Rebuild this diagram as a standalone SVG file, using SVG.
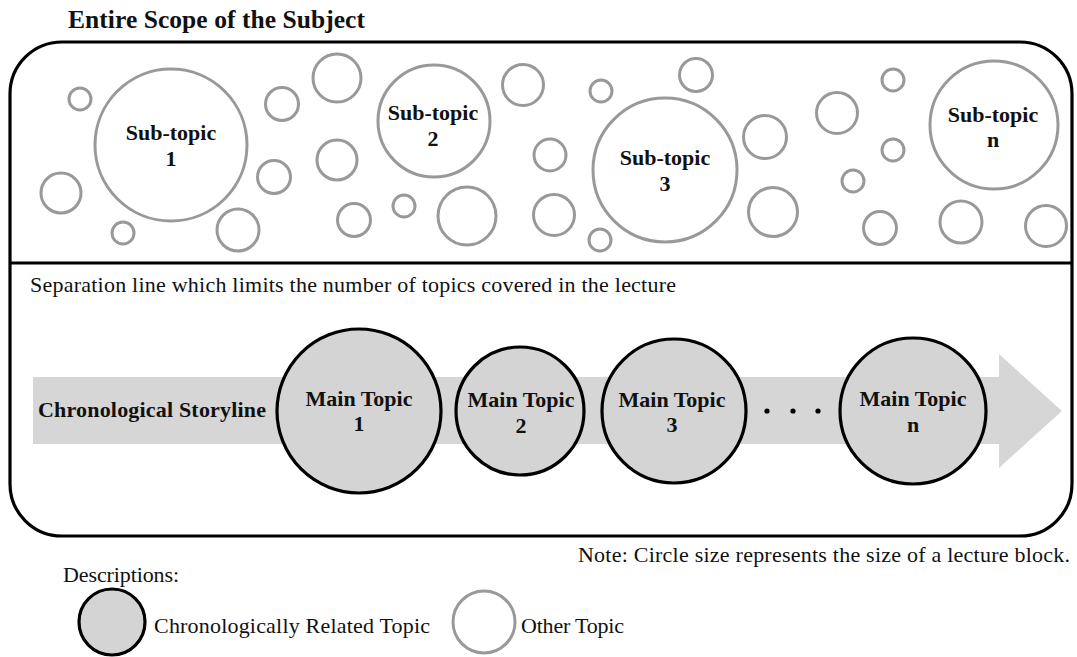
<svg xmlns="http://www.w3.org/2000/svg" width="1077" height="657" viewBox="0 0 1077 657" font-family="'Liberation Serif', 'Times New Roman', 'DejaVu Serif', serif">
  <style>
    text { font-family: 'Liberation Serif', 'Times New Roman', 'DejaVu Serif', serif; fill: #111; }
    .b { font-weight: bold; font-size: 22px; }
    .r { font-size: 22px; }
    .c { text-anchor: middle; }
    .other { fill: #fff; stroke: #999; stroke-width: 3; }
    .main { fill: #d4d4d4; stroke: #000; stroke-width: 3.2; }
    .frame { fill: none; stroke: #000; stroke-width: 3.2; }
  </style>

  <!-- heading -->
  <text id="title" x="68" y="28" font-weight="bold" font-size="25.5" textLength="297">Entire Scope of the Subject</text>

  <!-- outer scope frame and separation line -->
  <g id="scope">
    <rect class="frame" x="10" y="42" width="1062" height="494" rx="52" ry="52"/>
    <line x1="10" y1="263" x2="1072" y2="263" stroke="#000" stroke-width="3.2"/>
    <text class="r" x="30" y="292" textLength="646">Separation line which limits the number of topics covered in the lecture</text>
  </g>

  <!-- unlabelled topics -->
  <g id="other-topics">
    <circle class="other" cx="80" cy="99" r="11"/>
    <circle class="other" cx="61" cy="193" r="20"/>
    <circle class="other" cx="123" cy="233" r="11"/>
    <circle class="other" cx="238" cy="230" r="21"/>
    <circle class="other" cx="274" cy="177" r="16.5"/>
    <circle class="other" cx="282" cy="104" r="16.5"/>
    <circle class="other" cx="337" cy="78" r="24"/>
    <circle class="other" cx="337" cy="160" r="20"/>
    <circle class="other" cx="354" cy="220" r="16.5"/>
    <circle class="other" cx="404" cy="206" r="11"/>
    <circle class="other" cx="467" cy="216" r="29"/>
    <circle class="other" cx="523" cy="85" r="20.5"/>
    <circle class="other" cx="550" cy="155" r="16"/>
    <circle class="other" cx="554" cy="215" r="20.5"/>
    <circle class="other" cx="601" cy="91" r="11"/>
    <circle class="other" cx="600" cy="240" r="11"/>
    <circle class="other" cx="696" cy="75" r="16.5"/>
    <circle class="other" cx="765" cy="137" r="21.5"/>
    <circle class="other" cx="773" cy="212" r="24.5"/>
    <circle class="other" cx="837" cy="113" r="20.5"/>
    <circle class="other" cx="893" cy="80" r="11"/>
    <circle class="other" cx="893" cy="150" r="11"/>
    <circle class="other" cx="853" cy="181" r="11"/>
    <circle class="other" cx="880" cy="228" r="16.5"/>
    <circle class="other" cx="961" cy="222" r="21"/>
    <circle class="other" cx="1046" cy="226" r="20.5"/>
  </g>

  <g id="subtopic-1">
    <circle class="other" cx="171" cy="145" r="76"/>
    <text class="b c" x="171" y="140">Sub-topic</text>
    <text class="b c" x="171" y="166">1</text>
  </g>
  <g id="subtopic-2">
    <circle class="other" cx="434" cy="121" r="56"/>
    <text class="b c" x="433" y="120">Sub-topic</text>
    <text class="b c" x="433" y="146">2</text>
  </g>
  <g id="subtopic-3">
    <circle class="other" cx="665" cy="170" r="72"/>
    <text class="b c" x="665" y="165">Sub-topic</text>
    <text class="b c" x="665" y="191">3</text>
  </g>
  <g id="subtopic-n">
    <circle class="other" cx="994" cy="125" r="64"/>
    <text class="b c" x="993" y="122">Sub-topic</text>
    <text class="b c" x="993" y="147">n</text>
  </g>

  <!-- storyline arrow running under the main topics -->
  <g id="connectors">
    <path d="M33 377 H999 V354 L1062 411 L999 468 V444 H33 Z" fill="#d6d6d6"/>
  </g>

  <g id="storyline-label">
    <text class="b" x="38" y="417" textLength="228">Chronological Storyline</text>
  </g>

  <g id="main-topic-1">
    <circle class="main" cx="359" cy="411" r="82"/>
    <text class="b c" x="359" y="406">Main Topic</text>
    <text class="b c" x="359" y="431">1</text>
  </g>
  <g id="main-topic-2">
    <circle class="main" cx="520" cy="411" r="64"/>
    <text class="b c" x="521" y="407">Main Topic</text>
    <text class="b c" x="521" y="433">2</text>
  </g>
  <g id="main-topic-3">
    <circle class="main" cx="674" cy="411" r="72"/>
    <text class="b c" x="672" y="407">Main Topic</text>
    <text class="b c" x="672" y="432">3</text>
  </g>
  <g id="ellipsis">
    <circle cx="767" cy="411" r="2.6" fill="#000"/>
    <circle cx="793" cy="411" r="2.6" fill="#000"/>
    <circle cx="818" cy="411" r="2.6" fill="#000"/>
  </g>
  <g id="main-topic-n">
    <circle class="main" cx="913" cy="411" r="73"/>
    <text class="b c" x="913" y="406">Main Topic</text>
    <text class="b c" x="913" y="432">n</text>
  </g>

  <!-- note and legend -->
  <text id="note" class="r" x="578" y="562" textLength="492">Note: Circle size represents the size of a lecture block.</text>
  <g id="legend">
    <text class="r" x="63" y="582" textLength="116">Descriptions:</text>
    <circle class="main" cx="112" cy="622" r="33"/>
    <text class="r" x="154" y="633" textLength="276">Chronologically Related Topic</text>
    <circle class="other" cx="484" cy="622" r="31"/>
    <text class="r" x="521" y="633" textLength="103">Other Topic</text>
  </g>
</svg>
